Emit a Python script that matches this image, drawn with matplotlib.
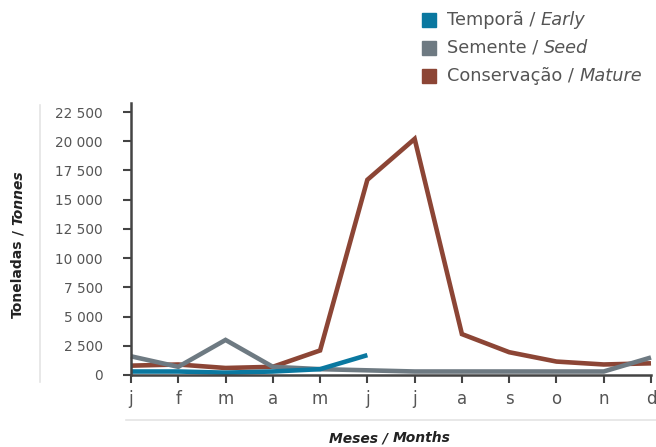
import matplotlib

matplotlib.use("Agg")
import matplotlib.pyplot as plt
from matplotlib.lines import Line2D

# --- data ------------------------------------------------------------------
MONTHS = ["j", "f", "m", "a", "m", "j", "j", "a", "s", "o", "n", "d"]
EARLY = [300, 300, 200, 300, 500, 1700]
SEED = [1600, 700, 3000, 700, 500, 400, 300, 300, 300, 300, 300, 1500]
MATURE = [800, 900, 600, 700, 2100, 16700, 20200, 3500, 1950, 1150, 900, 1000]
Y_TICKS = [0, 2500, 5000, 7500, 10000, 12500, 15000, 17500, 20000, 22500]

SERIES = [
    ("Conservação", "Mature", MATURE, "#8c4535"),
    ("Semente", "Seed", SEED, "#6e7a82"),
    ("Temporã", "Early", EARLY, "#0a78a0"),
]
TICK_COL = "#555555"
W, H = 656, 447

plt.rcParams["font.family"] = ["DejaVu Sans"]

fig = plt.figure(figsize=(W / 100, H / 100), dpi=100)
ax = fig.add_axes([131 / W, 1 - 375 / H, 520 / W, 272 / H])

for _pt, _en, vals, col in SERIES:
    ax.plot(range(len(vals)), vals, color=col, lw=3.3, solid_capstyle="butt",
            solid_joinstyle="miter", clip_on=False)

ax.set_xlim(0, len(MONTHS) - 1)
ax.set_ylim(0, 23270)
ax.set_xticks(range(len(MONTHS)))
ax.set_xticklabels(MONTHS)
ax.set_yticks(Y_TICKS)
ax.set_yticklabels([f"{v:,}".replace(",", " ") for v in Y_TICKS])
ax.tick_params(axis="y", length=5.5, width=1.5, color="#444444", pad=15,
               labelsize=9.8, labelcolor=TICK_COL)
ax.tick_params(axis="x", length=6, width=1.5, color="#444444", pad=5,
               labelsize=12, labelcolor=TICK_COL)
for s in ("top", "right"):
    ax.spines[s].set_visible(False)
for s in ("left", "bottom"):
    ax.spines[s].set_color("#444444")
    ax.spines[s].set_linewidth(1.8)

# light separators
fig.add_artist(Line2D([40 / W, 40 / W], [1 - 105 / H, 1 - 382 / H],
                      color="#e4e4e4", lw=1.2))
fig.add_artist(Line2D([126 / W, 1.0], [1 - 420 / H, 1 - 420 / H],
                      color="#e4e4e4", lw=1.2))

fig.canvas.draw()
renderer = fig.canvas.get_renderer()


def pieces(x_px, y_px, parts, rotation=0, ha="center", size=10, color="#333"):
    """Text runs with mixed styles. Positions in pixels from the top-left.
    For rotated text, parts are given top -> bottom."""
    texts = []
    for txt, style, weight in parts:
        t = fig.text(0, 0, txt, fontsize=size, style=style, weight=weight,
                     color=color, rotation=rotation, va="center",
                     ha="left" if rotation == 0 else "center")
        texts.append(t)
    lens = []
    for t in texts:
        bb = t.get_window_extent(renderer)
        lens.append(bb.width if rotation == 0 else bb.height)
    total = sum(lens)
    if rotation != 0:
        pos = y_px - total / 2
    elif ha == "center":
        pos = x_px - total / 2
    else:
        pos = x_px
    for t, ln in zip(texts, lens):
        if rotation == 0:
            t.set_position((pos / W, 1 - y_px / H))
        else:
            t.set_position((x_px / W, (H - (pos + ln / 2)) / H))
        pos += ln


pieces(390, 438, [("Meses / ", "italic", "bold"), ("Months", "italic", "bold")],
       size=10, color="#222222")
pieces(18, 244, [("Tonnes", "italic", "bold"), (" / ", "normal", "bold"),
                 ("Toneladas", "normal", "bold")],
       rotation=90, size=10, color="#222222")

# legend: Early, Seed, Mature from top
for i, (pt, en, _vals, col) in enumerate(SERIES[::-1]):
    yc = 20 + 28 * i
    fig.patches.append(plt.Rectangle((422 / W, 1 - (yc + 7) / H), 14 / W, 14 / H,
                                     transform=fig.transFigure, color=col,
                                     figure=fig))
    pieces(447, yc, [(pt + " / ", "normal", "normal"), (en, "italic", "normal")],
           ha="left", size=12.8, color="#555555")

fig.savefig("out.png", dpi=100)
